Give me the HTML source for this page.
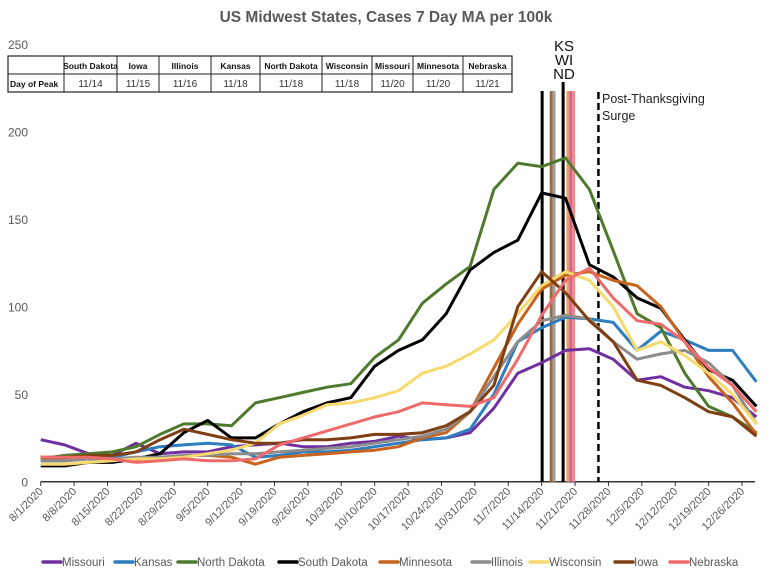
<!DOCTYPE html>
<html><head><meta charset="utf-8"><style>
html,body{margin:0;padding:0;background:#fff}
body{width:772px;height:576px;overflow:hidden;font-family:"Liberation Sans",sans-serif}
</style></head><body>
<svg id="chart" width="772" height="576" viewBox="0 0 772 576" xmlns="http://www.w3.org/2000/svg" font-family="Liberation Sans, sans-serif">
<text x="386" y="22" text-anchor="middle" font-size="15.5" font-weight="bold" fill="#595959">US Midwest States, Cases 7 Day MA per 100k</text>
<g id="yaxis"></g>
<g id="xaxis"></g>
<g id="vlines"></g>
<g id="series"></g>
<g id="table"></g>
<text x="564" y="51" text-anchor="middle" font-size="15" fill="#111">KS</text>
<text x="564" y="65" text-anchor="middle" font-size="15" fill="#111">WI</text>
<text x="564" y="79" text-anchor="middle" font-size="15" fill="#111">ND</text>
<text x="602" y="103" font-size="12.5" fill="#222">Post-Thanksgiving</text>
<text x="602" y="120" font-size="12.5" fill="#222">Surge</text>
<g id="legend"></g>
</svg>
<script>
const NS="http://www.w3.org/2000/svg";
const days=[0,5,10,15,20,25,30,35,40,45,50,55,60,65,70,75,80,85,90,95,100,105,110,115,120,125,130,135,140,145,150];
const missouri=[24,21,16,15,22,16,17,17,20,21,22,20,20,22,23,26,24,25,28,42,62,68,75,76,70,58,60,54,52,48,37];
const kansas=[12,12,13,14,17,20,21,22,21,14,15,17,17,18,20,22,24,25,30,50,80,88,94,93,91,75,86,81,75,75,57];
const northDakota=[13,15,16,17,20,27,33,33,32,45,48,51,54,56,71,81,102,113,123,167,182,180,185,167,132,96,88,62,43,37,28];
const southDakota=[9,9,11,11,13,16,28,35,25,25,33,40,45,48,66,75,81,96,121,131,138,165,162,124,117,105,99,81,64,58,43];
const minnesota=[14,13,13,13,12,13,15,15,14,10,14,15,16,17,18,20,25,28,40,65,90,110,118,120,115,112,100,80,60,45,27];
const illinois=[12,12,13,13,14,14,15,15,16,16,17,18,19,20,22,24,26,30,40,60,80,92,95,93,80,70,73,75,68,55,33];
const wisconsin=[10,10,11,12,13,13,14,16,18,22,33,38,44,45,48,52,62,66,73,81,96,112,120,115,100,75,80,72,62,50,33];
const iowa=[14,14,15,15,17,24,30,27,24,22,22,24,24,25,27,27,28,32,40,55,100,120,108,92,80,58,55,48,40,37,26];
const nebraska=[14,14,14,13,11,12,13,12,12,13,21,25,29,33,37,40,45,44,43,48,70,95,115,122,105,92,90,80,65,55,40];
const seriesNames=["Missouri","Kansas","North Dakota","South Dakota","Minnesota","Illinois","Wisconsin","Iowa","Nebraska"];
const seriesData=[missouri,kansas,northDakota,southDakota,minnesota,illinois,wisconsin,iowa,nebraska];
const seriesColors=["#7030a0","#2e7dbf","#4f7a2e","#000000","#c8641e","#8c8c8c","#f7d96e","#7f3f12","#ef6b6b"];
const yTicks=[0,50,100,150,200,250];
const xTickLabels=["8/1/2020","8/8/2020","8/15/2020","8/22/2020","8/29/2020","9/5/2020","9/12/2020","9/19/2020","9/26/2020","10/3/2020","10/10/2020","10/17/2020","10/24/2020","10/31/2020","11/7/2020","11/14/2020","11/21/2020","11/28/2020","12/5/2020","12/12/2020","12/19/2020","12/26/2020"];
const peakDays=[105.1,107,107.6,109.5,110.5,111.1,111.7];
const peakColors=["#000","#9c6a45","#a0a0a0","#000","#e8a070","#d8609a","#f08a8a"];
const thanksgivingDay=116.9;
const tableStates=["South Dakota","Iowa","Illinois","Kansas","North Dakota","Wisconsin","Missouri","Minnesota","Nebraska"];
const tablePeaks=["11/14","11/15","11/16","11/18","11/18","11/18","11/20","11/20","11/21"];

const X=d=>40.7+4.771*d;
const Y=v=>481.7-1.75*v;
function mk(tag,attrs,parent){const e=document.createElementNS(NS,tag);for(const k in attrs)e.setAttribute(k,attrs[k]);parent.appendChild(e);return e;}

const ya=document.getElementById('yaxis');
yTicks.forEach(t=>{const e=mk('text',{x:28,y:Y(t)+5,'text-anchor':'end','font-size':12,fill:'#595959'},ya);


e.textContent=t;});

const xa=document.getElementById('xaxis');
const ax=mk('line',{x1:X(0),x2:755,y1:481.7,y2:481.7,stroke:'#333','stroke-width':1.5},xa);


xTickLabels.forEach((l,i)=>{const x=X(i*7);
const tk=mk('line',{x1:x,x2:x,y1:481.7,y2:486,stroke:'#333','stroke-width':1},xa);


const e=mk('text',{x:x+3,y:492,'text-anchor':'end','font-size':11,fill:'#595959',transform:`rotate(-45 ${x+3} 492)`},xa);


e.textContent=l;});

const vl=document.getElementById('vlines');
peakDays.forEach((d,i)=>{const e=mk('line',{x1:X(d),x2:X(d),y1:i===3?82:91,y2:481.7,stroke:peakColors[i],'stroke-width':3},vl);

});
const dl=mk('line',{x1:X(thanksgivingDay),x2:X(thanksgivingDay),y1:92,y2:481.7,stroke:'#000','stroke-width':2.5,'stroke-dasharray':'7 4'},vl);



const sg=document.getElementById('series');
seriesData.forEach((arr,i)=>{const pts=arr.map((v,j)=>X(days[j]).toFixed(1)+','+Y(v).toFixed(1)).join(' ');
const e=mk('polyline',{points:pts,fill:'none',stroke:seriesColors[i],'stroke-width':3,'stroke-linejoin':'round'},sg);

});

const tb=document.getElementById('table');
const bx=[8,64,117,159,211,260,322,372,413,463,512];
const tr=mk('rect',{x:8,y:56,width:504,height:36,fill:'#fff',stroke:'#222','stroke-width':1.2},tb);


const hl=mk('line',{x1:8,x2:512,y1:74,y2:74,stroke:'#222'},tb);


bx.slice(1,-1).forEach(x=>{const e=mk('line',{x1:x,x2:x,y1:56,y2:92,stroke:'#222'},tb);

});
const dh=mk('text',{x:10,y:87,'font-size':8.5,'font-weight':'bold',fill:'#111'},tb);


dh.textContent='Day of Peak';
tableStates.forEach((s,i)=>{const cx=(bx[i+1]+bx[i+2])/2;
const a=mk('text',{x:cx,y:69,'text-anchor':'middle','font-size':8.5,'font-weight':'bold',fill:'#111'},tb);


a.textContent=s;
const b=mk('text',{x:cx,y:87,'text-anchor':'middle','font-size':10,fill:'#333'},tb);


b.textContent=tablePeaks[i];});

const lg=document.getElementById('legend');
const lx=[43,115,178,279,380,472,530,615,670];
seriesNames.forEach((n,i)=>{
const s=mk('line',{x1:lx[i],x2:lx[i]+18,y1:562,y2:562,stroke:seriesColors[i],'stroke-width':3.5,'stroke-linecap':'round'},lg);


const t=mk('text',{x:lx[i]+19,y:566,'font-size':11.5,fill:'#595959'},lg);


t.textContent=n;});
</script>
</body></html>
